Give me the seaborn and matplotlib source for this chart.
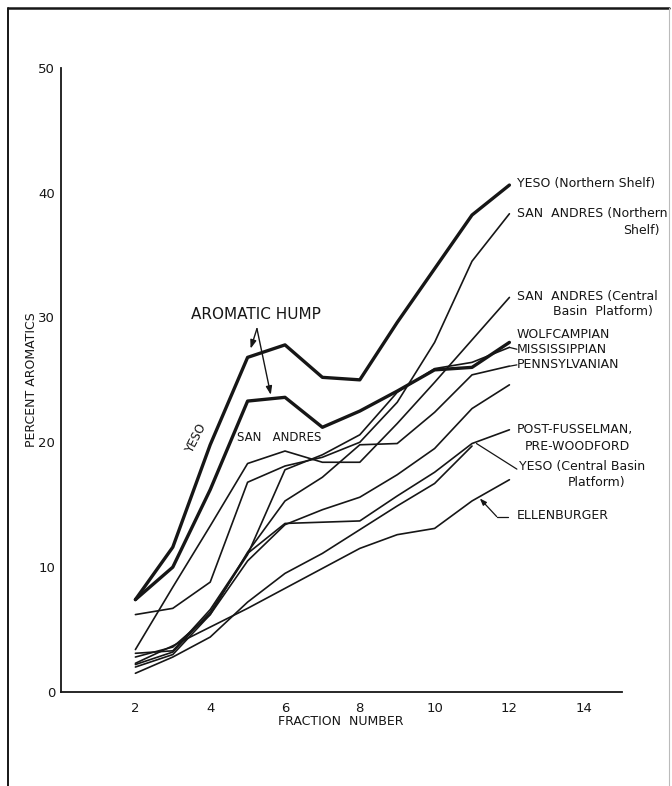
import matplotlib
matplotlib.use("Agg")
import matplotlib.pyplot as plt
from matplotlib.lines import Line2D
import seaborn as sns
import pandas as pd

# ---------------- data ----------------
fractions = [2, 3, 4, 5, 6, 7, 8, 9, 10, 11, 12]
fractions_short = [2, 3, 4, 5, 6, 7, 8, 9, 10, 11]

yeso_northern_shelf = [7.4, 11.6, 19.8, 26.8, 27.8, 25.2, 25.0, 29.6, 33.9, 38.2, 40.6]
san_andres_hump = [7.4, 10.0, 16.2, 23.3, 23.6, 21.2, 22.5, 24.1, 25.8, 26.0, 28.0]
san_andres_northern_shelf = [6.2, 6.7, 8.8, 16.8, 18.1, 18.8, 20.0, 23.2, 28.0, 34.5, 38.3]
san_andres_central_basin = [3.4, 8.4, 13.3, 18.3, 19.3, 18.4, 18.4, 21.5, 24.8, 28.2, 31.6]
mississippian = [2.2, 3.2, 6.4, 11.0, 17.8, 19.0, 20.6, 24.0, 25.9, 26.4, 27.6]
pennsylvanian = [2.8, 3.6, 6.2, 11.2, 15.3, 17.2, 19.8, 19.9, 22.4, 25.4, 26.1]
unlabeled_series = [2.0, 3.0, 6.2, 10.5, 13.4, 14.6, 15.6, 17.4, 19.5, 22.7, 24.6]
post_fusselman = [3.1, 3.3, 6.6, 11.1, 13.5, 13.6, 13.7, 15.7, 17.6, 19.9, 21.0]
yeso_central_basin = [1.5, 2.8, 4.4, 7.2, 9.5, 11.1, 13.0, 14.9, 16.7, 19.7]
ellenburger = [2.3, 3.7, 5.2, 6.7, 8.3, 9.9, 11.5, 12.6, 13.1, 15.3, 17.0]

x_ticks = list(range(1, 16))
x_tick_labels = ["", "2", "", "4", "", "6", "", "8", "", "10", "", "12", "", "14", ""]
y_ticks = [0, 10, 20, 30, 40, 50]
y_tick_labels = ["0", "10", "20", "30", "40", "50"]

right_labels = [
    (12.2, 40.7, "YESO (Northern Shelf)", "left"),
    (12.2, 38.3, "SAN  ANDRES (Northern", "left"),
    (16.03, 37.0, "Shelf)", "right"),
    (12.2, 31.7, "SAN  ANDRES (Central", "left"),
    (13.17, 30.45, "Basin  Platform)", "left"),
    (12.2, 28.6, "WOLFCAMPIAN", "left"),
    (12.2, 27.45, "MISSISSIPPIAN", "left"),
    (12.2, 26.25, "PENNSYLVANIAN", "left"),
    (12.2, 21.0, "POST-FUSSELMAN,", "left"),
    (12.42, 19.7, "PRE-WOODFORD", "left"),
    (12.25, 18.1, "YESO (Central Basin", "left"),
    (13.57, 16.8, "Platform)", "left"),
    (12.2, 14.1, "ELLENBURGER", "left"),
]

# ---------------- figure ----------------
sns.set_style("white")
plt.rcParams["font.family"] = ["DejaVu Sans"]
INK = "#161616"

fig = plt.figure(figsize=(6.72, 7.86), dpi=100)
ax = fig.add_axes([60.6 / 672, 1 - 692 / 786, 561 / 672, 624.3 / 786])

thin = 1.2
thick = 2.4
series = [
    (fractions, yeso_northern_shelf, thick),
    (fractions, san_andres_hump, thick),
    (fractions, san_andres_northern_shelf, thin),
    (fractions, san_andres_central_basin, thin),
    (fractions, mississippian, thin),
    (fractions, pennsylvanian, thin),
    (fractions, unlabeled_series, thin),
    (fractions, post_fusselman, thin),
    (fractions_short, yeso_central_basin, thin),
    (fractions, ellenburger, thin),
]
for xs, ys, lw in series:
    df = pd.DataFrame({"fraction": xs, "aromatics": ys})
    sns.lineplot(data=df, x="fraction", y="aromatics", color=INK,
                 linewidth=lw, ax=ax, estimator=None, sort=False)

ax.set_xlim(0, 15)
ax.set_ylim(0, 50)
for s in ["top", "right"]:
    ax.spines[s].set_visible(False)
for s in ["left", "bottom"]:
    ax.spines[s].set_color(INK)
    ax.spines[s].set_linewidth(1.3)

ax.set_xticks(x_ticks)
ax.set_xticklabels(x_tick_labels)
ax.set_yticks(y_ticks)
ax.set_yticklabels(y_tick_labels)
ax.tick_params(axis="x", direction="in", length=9, width=1.2, color=INK,
               labelsize=9.5, pad=7, labelcolor=INK)
ax.tick_params(axis="y", direction="in", length=9, width=1.2, color=INK,
               labelsize=9.5, pad=4, labelcolor=INK)

ax.set_xlabel("FRACTION  NUMBER", fontsize=9, color=INK, labelpad=0)
ax.set_ylabel("PERCENT AROMATICS", fontsize=9, color=INK, labelpad=0)

# annotations
ax.text(5.23, 30.2, "AROMATIC HUMP", fontsize=11, ha="center", va="center", color=INK)
arrow = dict(arrowstyle="-|>,head_length=0.5,head_width=0.18", color=INK, lw=1.0,
             shrinkA=0, shrinkB=0)
ax.annotate("", xy=(5.08, 27.5), xytext=(5.25, 29.1), arrowprops=arrow)
ax.annotate("", xy=(5.62, 23.8), xytext=(5.25, 29.1), arrowprops=arrow)
ax.text(3.62, 20.3, "YESO", fontsize=8.5, rotation=63, ha="center", va="center", color=INK)
ax.text(5.84, 20.4, "SAN   ANDRES", fontsize=8.5, ha="center", va="center", color=INK)

for x, y, t, ha in right_labels:
    ax.text(x, y, t, fontsize=9, ha=ha, va="center", color=INK, clip_on=False)

# leader lines
ax.plot([12.0, 12.2], [27.6, 27.45], color=INK, lw=0.9, clip_on=False)
ax.plot([12.02, 12.2], [26.1, 26.2], color=INK, lw=0.9, clip_on=False)
ax.plot([11.12, 12.2], [19.9, 17.85], color=INK, lw=0.9, clip_on=False)
ax.plot([11.66, 11.97], [14.05, 14.05], color=INK, lw=0.9, clip_on=False)
ax.annotate("", xy=(11.21, 15.5), xytext=(11.66, 14.05),
            arrowprops=dict(arrowstyle="-|>,head_length=0.4,head_width=0.15",
                            color=INK, lw=0.9, shrinkA=0, shrinkB=0))

# page border
fig.add_artist(Line2D([8 / 672, 8 / 672], [0, 1 - 8 / 786], transform=fig.transFigure,
                      color=INK, lw=1.4))
fig.add_artist(Line2D([8 / 672, 669 / 672], [1 - 8 / 786, 1 - 8 / 786],
                      transform=fig.transFigure, color=INK, lw=1.8))
fig.add_artist(Line2D([669 / 672, 669 / 672], [0, 1 - 8 / 786], transform=fig.transFigure,
                      color="#bbbbbb", lw=0.8))

fig.savefig("out.png", dpi=100)
